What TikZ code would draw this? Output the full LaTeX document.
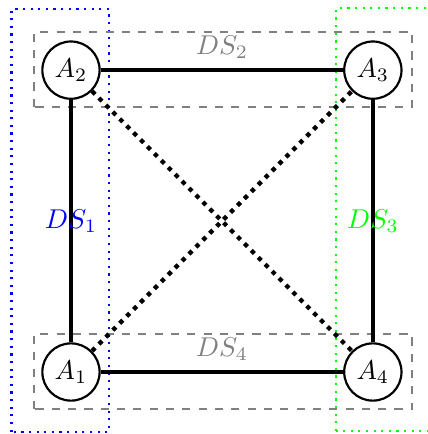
\documentclass[tikz,border=0pt]{standalone}
\usepackage{amsfonts}
\usepackage{amssymb}
\tikzset{agent/.style={circle,draw,thick,inner sep=2pt,minimum size=0.74cm},
  link/.style={ultra thick},
  cross/.style={ultra thick,dotted}}

\begin{document}
\begin{tikzpicture}[scale=1]
\useasboundingbox (-0.917,-0.801) rectangle (4.612,4.806);

\draw [thick,dotted,blue](-0.768,-0.771) rectangle (0.491,4.690);
\draw [thick,dotted,green](3.424,-0.762) rectangle (4.664,4.700);

\draw [thick,dashed,gray](-0.478,3.424) rectangle (4.41,4.397);
\draw [thick,dashed,gray](-0.478,-0.482) rectangle (4.41,0.491);

\node [agent] (A1) at (0,0) {$A_1$};
\node [agent] (A2) at (0,3.9) {$A_2$};
\node [agent] (A3) at (3.9,3.9) {$A_3$};
\node [agent] (A4) at (3.9,0) {$A_4$};

\draw [link](A1)--node[blue] (ds1) {$DS_1$} (A2);
\draw [link](A2)--node[above,gray] (ds2) {$DS_2$} (A3);
\draw [link](A3)--node[green] (ds3) {$DS_3$} (A4);
\draw [link](A1)--node[above,gray] (ds4) {$DS_4$} (A4);

\draw [cross](A1)--(A3);
\draw [cross](A2)--(A4);

\end{tikzpicture}
\end{document}
